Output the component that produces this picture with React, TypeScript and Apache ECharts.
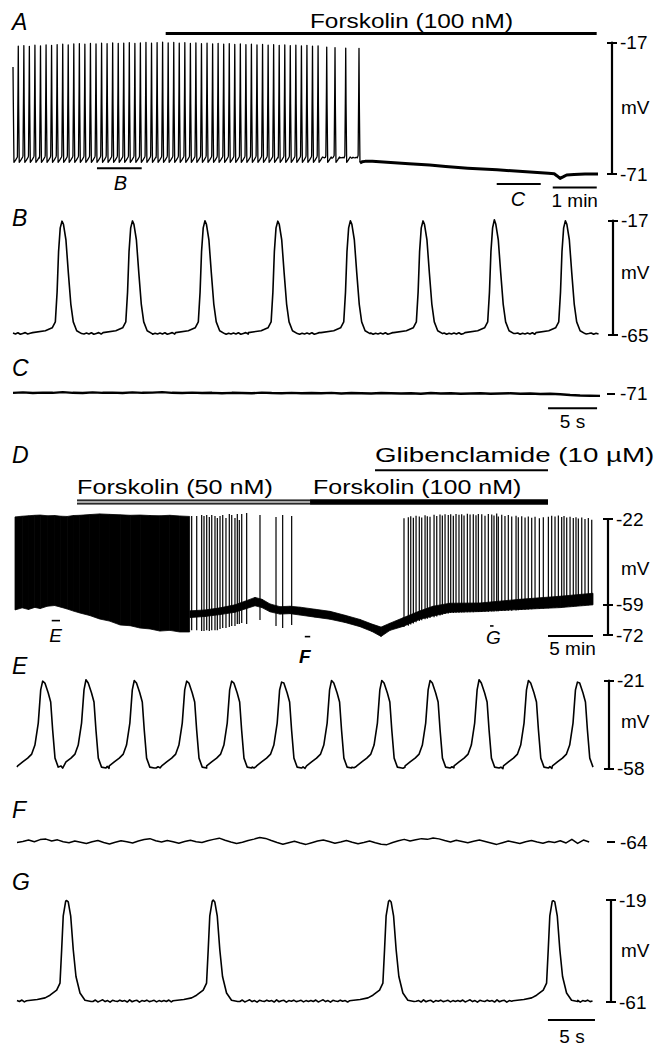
import React, { useEffect, useRef } from "react";
import * as echarts from "echarts";

const FONT = '"Liberation Sans", Arial, Helvetica, sans-serif';

// ---------- shared baseline noise (mV offsets read from the flat stretches) ----------
const baselineNoise = [0.4, -0.3, 0.7, -0.6, 0.1, 0.8, -0.4, 0.3, -0.8, 0.5, 0.0, -0.3, 0.6, -0.2, 0.3, -0.7, 0.8, -0.5, 0.2, 0.5, -0.8, 0.3, -0.1, 0.6, -0.4, 0.0, 0.5, -0.6, 0.3, -0.3];

// ---------- Panel A (time in s, mV) ----------
const spikesA = [
  [0, -27],
  [7.2, -18.4], [14.8, -18.2], [22.3, -18.5], [29.9, -18.0], [37.5, -18.3], [45.1, -17.9], [52.6, -18.1], [60.2, -17.8], [67.8, -17.6], [75.3, -17.9],
  [82.9, -17.5], [90.5, -17.4], [98.0, -17.6], [105.6, -17.3], [113.2, -17.5], [120.8, -17.2], [128.3, -17.4], [135.9, -17.1], [143.5, -17.3], [151.0, -17.2],
  [158.6, -17.0], [166.2, -17.3], [173.7, -17.1], [181.3, -16.9], [188.9, -17.2], [196.5, -17.0], [204.0, -16.8], [211.6, -17.1], [219.2, -16.9], [226.7, -17.2],
  [234.3, -17.0], [241.9, -17.3], [249.4, -17.1], [257.0, -17.4], [264.6, -17.2], [272.2, -17.5], [279.7, -17.3], [287.3, -17.6], [294.9, -17.4], [302.4, -17.7],
  [310.0, -17.5], [317.6, -17.8], [325.1, -17.6], [332.7, -17.9], [340.3, -17.7], [347.9, -18.0], [355.4, -17.8], [363.0, -18.1], [370.6, -17.9], [378.1, -18.2],
  [385.7, -18.0], [393.3, -18.3], [400.8, -18.1], [408.4, -18.4], [416.0, -18.3],
  [427.8, -18.8], [439.1, -19.0], [453.7, -19.2], [471.8, -19.3],
];
const spikeShapeA = [[-1.2, -63.4], [-0.35, -35], [0, 0], [0.45, -42], [1.3, -66.2], [3.5, -65.3], [6.0, -64.0]];
const afterSpikesA = [
  [473.1, -66.5], [476, -66.0], [480, -65.8], [490, -65.8], [505, -66.1], [520, -66.4], [540, -66.8], [568, -67.3], [590, -67.9],
  [620, -68.6], [660, -69.3], [690, -69.9], [715, -70.4], [730, -70.7], [738, -70.9], [742, -71.8], [746, -72.8], [750, -72.2],
  [755, -71.4], [765, -71.2], [780, -71.0], [797.7, -71.0],
];
const forskolinA = [208.2, 795.9];
const markB_A = [114.5, 175.5];
const markC_A = [659.6, 719.6];
const minuteBarA = [736, 796];
const ticksA = [-71, -17];

// ---------- Panel B ----------
const spikesB = [[5.0, -17.2], [12.19, -17.1], [19.59, -17.0], [27.02, -17.2], [34.43, -17.0], [41.84, -17.1], [49.12, -16.6], [56.37, -17.0]];
const spikeShapeB = [
  [-3.0, -64.0], [-1.7, -63.2], [-1.0, -62.0], [-0.68, -59.5], [-0.5, -47], [-0.35, -30], [-0.18, -20], [0, 0],
  [0.15, -18.5], [0.4, -25], [0.65, -39], [0.9, -52], [1.15, -59.5], [1.5, -63.2], [2.0, -64.4],
];
const ticksB = [-65, -17];

// ---------- Panel C ----------
const traceC = [
  -70.8, -70.6, -70.9, -70.7, -70.8, -70.5, -70.8, -70.9, -70.6, -70.8, -70.7, -70.9, -70.6, -70.8, -70.7, -70.5, -70.8, -70.9, -70.7, -70.9,
  -70.8, -71.0, -70.8, -70.9, -71.0, -70.7, -70.9, -71.0, -70.8, -71.0, -70.9, -71.0, -70.8, -71.1, -70.9, -71.0, -71.1, -70.9, -71.0, -71.1,
  -71.0, -71.2, -70.9, -71.1, -71.0, -71.2, -71.1, -71.0, -71.2, -71.1, -71.0, -71.2, -71.1, -71.3, -71.2, -71.4, -71.7, -71.9, -72.0, -72.1,
];
const secondsBarC = [54.6, 59.6];
const ticksC = [-71];

// ---------- Panel D (time in min, mV) ----------
const denseBandD = [
  [0.0, -21.1, -61.2], [0.8, -20.8, -60.3], [1.5, -20.6, -61.0], [2.2, -20.4, -60.1], [2.8, -20.3, -60.6], [3.6, -20.6, -59.6], [4.4, -20.5, -59.3],
  [5.1, -20.8, -60.0], [5.8, -20.9, -60.8], [6.5, -20.5, -61.7], [7.2, -20.4, -62.5], [8.3, -20.1, -63.6], [9.4, -19.8, -65.1], [10.5, -20.0, -66.0],
  [11.7, -20.2, -67.7], [12.8, -20.4, -68.0], [13.9, -20.3, -69.0], [15.0, -20.5, -69.4], [16.1, -20.6, -70.3], [17.2, -20.4, -70.0], [18.3, -20.7, -70.7],
  [19.4, -20.9, -70.7],
];
const baselineBandD = [
  [19.44, -61.6, -64.5], [21.11, -61.2, -64.0], [22.78, -60.3, -63.2], [24.44, -59.0, -62.2], [25.56, -57.4, -60.8], [26.67, -55.8, -59.4],
  [27.44, -56.6, -60.2], [28.33, -58.6, -62.0], [29.44, -59.8, -63.0], [30.56, -59.6, -62.8], [31.67, -60.0, -63.4], [33.33, -60.9, -64.3],
  [35.0, -61.8, -65.2], [36.67, -63.5, -66.6], [38.33, -65.3, -68.4], [39.67, -67.3, -70.5], [40.67, -68.6, -72.6], [41.67, -66.9, -70.0],
  [43.11, -64.6, -68.3], [45.0, -61.6, -65.2], [46.44, -59.6, -63.8], [48.33, -58.3, -62.2], [51.67, -58.2, -61.9], [56.11, -56.6, -61.0],
  [60.56, -55.3, -60.2], [64.22, -54.0, -59.0],
];
const sparseSpikesD = [
  [19.63, -20.7, -69.9], [20.19, -20.7, -69.9], [20.74, -20.3, -70.3], [21.0, -20.7, -70.3], [21.3, -20.3, -69.9], [21.59, -21.1, -70.3],
  [21.86, -20.3, -69.9], [22.22, -20.7, -69.9], [22.48, -21.6, -69.9], [22.78, -20.7, -69.4], [23.08, -20.3, -69.0], [23.44, -21.6, -69.0],
  [23.81, -19.8, -68.6], [24.08, -20.3, -68.1], [24.44, -21.6, -68.1], [24.70, -19.8, -67.3], [24.92, -22.4, -67.3], [25.19, -19.8, -66.8],
  [25.74, -19.4, -67.3], [27.22, -20.3, -65.5], [29.0, -21.1, -68.1], [29.74, -20.3, -69.0], [30.74, -20.7, -67.7],
];
const recoverySpikesD = [
  [43.22, -21.7, -68.5], [43.70, -21.2, -68.0], [43.97, -20.8, -67.5], [44.26, -21.5, -67.0], [44.56, -20.6, -66.5], [44.92, -20.9, -66.0],
  [45.19, -21.3, -65.6], [45.56, -20.4, -65.2], [45.81, -20.8, -65.0], [46.11, -21.0, -64.7], [46.56, -20.2, -64.3], [46.86, -20.7, -64.0],
  [47.22, -20.1, -63.6], [47.48, -20.5, -63.3], [47.78, -19.9, -63.0], [48.14, -20.3, -62.7], [48.41, -20.0, -62.5], [48.70, -20.6, -62.5],
  [49.00, -19.8, -62.4], [49.33, -20.2, -62.4], [49.63, -20.0, -62.3], [49.89, -20.5, -62.3], [50.26, -19.7, -62.2], [50.56, -20.1, -62.2],
  [50.92, -19.9, -62.2], [51.22, -20.4, -62.1], [51.48, -19.8, -62.1], [51.86, -20.0, -62.1], [52.22, -20.6, -62.0], [52.59, -19.8, -62.0],
  [52.97, -20.1, -61.9], [53.22, -20.5, -61.9], [53.52, -19.6, -61.8], [53.70, -20.9, -61.8], [54.08, -20.2, -61.7], [54.44, -20.7, -61.7],
  [54.81, -20.3, -61.6], [55.19, -20.9, -61.5], [55.67, -20.6, -61.4], [55.92, -21.2, -61.3], [56.30, -20.8, -61.2], [56.67, -21.4, -61.1],
  [57.03, -20.9, -61.0], [57.41, -21.5, -60.9], [57.78, -21.0, -60.8], [58.26, -21.7, -60.7], [58.70, -21.2, -60.6], [59.26, -21.0, -60.5],
  [59.63, -20.6, -60.4], [60.00, -20.9, -60.3], [60.37, -20.5, -60.2], [60.74, -21.1, -60.1], [61.00, -20.7, -60.0], [61.30, -21.4, -59.9],
  [61.67, -21.0, -59.8], [62.03, -21.6, -59.7], [62.33, -21.2, -59.6], [62.59, -21.8, -59.5], [62.97, -21.4, -59.4], [63.33, -22.0, -59.3],
  [63.70, -21.6, -59.2], [64.08, -22.3, -59.1],
];
const forskolin50D = [6.89, 32.78];
const forskolin100D = [32.78, 59.22];
const glibenclamideD = [40.0, 59.22];
const minuteBarD = [59.22, 64.22];
const markE_D = [4.08, 5.0];
const markF_D = [32.2, 32.8];
const markG_D = [52.78, 53.17];
const ticksD = [-72, -59, -22];

// ---------- Panel E ----------
const spikesE = [[2.62, -21.2], [7.04, -20.6], [11.97, -20.9], [17.32, -21.2], [21.91, -21.2], [27.01, -21.6], [32.11, -20.9], [37.24, -20.9], [42.17, -20.9], [47.17, -20.6], [52.21, -20.9], [57.21, -21.6]];
const spikeShapeE = [
  [-2.55, -57.0], [-2.04, -55.3], [-1.53, -53.7], [-1.12, -52.0], [-0.79, -48.2], [-0.45, -38.9], [-0.2, -24.9], [0, 0],
  [0.23, -22.0], [0.57, -26.2], [0.82, -30.0], [1.02, -41.8], [1.26, -53.7], [1.59, -57.5], [2.04, -57.9],
];
const ticksE = [-58, -21];

// ---------- Panel F ----------
const traceF = [
  -64.2, -63.8, -63.2, -63.9, -63.0, -62.8, -63.6, -63.1, -63.9, -64.3, -63.6, -64.1, -64.6, -63.9, -63.4, -64.2, -64.8, -64.1, -63.5, -63.9,
  -64.4, -63.6, -63.0, -62.6, -63.5, -64.0, -63.4, -63.9, -64.5, -63.8, -63.3, -63.9, -64.2, -63.5, -62.9, -62.4, -63.3, -64.0, -64.6, -64.1,
  -63.4, -62.8, -62.1, -62.5, -63.4, -64.2, -64.9, -64.3, -63.7, -64.4, -65.0, -64.3, -63.6, -63.2, -63.8, -64.5, -64.0, -63.4, -64.1, -64.7,
  -64.2, -63.6, -64.3, -64.9, -65.1, -64.2, -63.5, -62.9, -63.6, -63.1, -62.6, -62.9, -62.3, -62.7, -63.4, -64.0, -63.3, -63.8, -64.3, -63.7,
  -63.2, -63.8, -64.4, -65.0, -64.3, -63.6, -64.1, -64.6, -63.9, -63.4, -64.0, -64.5, -63.8, -64.2, -63.5, -64.4, -62.9, -64.6, -63.2, -64.0,
];
const ticksF = [-64];

// ---------- Panel G ----------
const spikesG = [[5.07, -19.2], [20.03, -19.0], [38.03, -19.1], [54.74, -19.3]];
const spikeShapeG = [
  [-4.1, -60.5], [-3.0, -60.0], [-2.2, -59.3], [-1.7, -58.2], [-1.02, -56.1], [-0.68, -53.2], [-0.51, -39.4], [-0.35, -25.5], [-0.1, -19.5], [0, 0],
  [0.16, -19.8], [0.41, -25.5], [0.67, -39.4], [0.95, -50.5], [1.36, -57.3], [1.87, -60.3], [2.5, -60.8],
];
const secondsBarG = [54.2, 59.0];
const ticksG = [-61, -19];

// ---------- helpers ----------
function buildSpikeTrace(spikes: number[][], shape: number[][], base: number, amp: number, t0: number, t1: number, step: number) {
  const pts: number[][] = [];
  const lo = shape[0][0];
  const hi = shape[shape.length - 1][0];
  let k = 0;
  for (let t = t0; t <= t1 + 1e-6; t += step, k++) {
    if (spikes.some((s) => t >= s[0] + lo && t <= s[0] + hi)) continue;
    pts.push([t, base + amp * baselineNoise[k % baselineNoise.length]]);
  }
  for (const [ts, pk] of spikes) {
    for (const [dt, v] of shape) {
      const t = ts + dt;
      if (t < t0 - 1e-6 || t > t1 + 1e-6) continue;
      pts.push([t, dt === 0 ? pk : v]);
    }
  }
  pts.sort((a, b) => a[0] - b[0]);
  return pts;
}

function lineSeries(gi: number, data: number[][], width: number, color = "#000", z = 3) {
  return {
    type: "line",
    xAxisIndex: gi,
    yAxisIndex: gi * 2,
    data,
    showSymbol: false,
    symbol: "none",
    clip: false,
    silent: true,
    z,
    lineStyle: { color, width, join: "round", cap: "butt" },
  };
}

function barSeries(gi: number, range: number[], v: number, width: number, color = "#000", z = 4) {
  return lineSeries(gi, [[range[0], v], [range[1], v]], width, color, z);
}

function bandSeries(gi: number, band: number[][]) {
  return {
    type: "custom",
    xAxisIndex: gi,
    yAxisIndex: gi * 2,
    data: band,
    encode: { x: 0, y: [1, 2] },
    silent: true,
    renderItem: (params: any, api: any) => {
      const i = params.dataIndex;
      if (i >= band.length - 1) return null;
      const a = band[i];
      const b = band[i + 1];
      return {
        type: "polygon",
        shape: { points: [api.coord([a[0], a[1]]), api.coord([b[0], b[1]]), api.coord([b[0], b[2]]), api.coord([a[0], a[2]])] },
        style: { fill: "#000", stroke: "#000", lineWidth: 0.8 },
      };
    },
  };
}

function spikeLines(gi: number, spikes: number[][]) {
  return {
    type: "custom",
    xAxisIndex: gi,
    yAxisIndex: gi * 2,
    data: spikes,
    encode: { x: 0, y: [1, 2] },
    silent: true,
    renderItem: (params: any, api: any) => {
      const p1 = api.coord([api.value(0), api.value(1)]);
      const p2 = api.coord([api.value(0), api.value(2)]);
      return {
        type: "line",
        shape: { x1: p1[0], y1: p1[1], x2: p2[0], y2: p2[1] },
        style: { stroke: "#000", lineWidth: 1.2 },
      };
    },
  };
}

// scale bar: right axis carries the bar, outer ticks and labels; a left-positioned twin
// moved onto the same line carries the ticks that point left.
function scaleAxes(gi: number, gridWidth: number, min: number, max: number, ticks: number[], offset: number, o: { line: boolean; tickLen?: number; margin?: number }) {
  const tl = o.tickLen ?? 5;
  return [
    {
      gridIndex: gi,
      type: "value",
      min,
      max,
      position: "right",
      offset,
      axisLine: { show: o.line, onZero: false, lineStyle: { color: "#000", width: 2.2 } },
      axisTick: { show: true, inside: false, length: tl, customValues: ticks, lineStyle: { color: "#000", width: 2 } },
      axisLabel: {
        show: true,
        margin: o.margin ?? 8,
        customValues: ticks,
        color: "#000",
        fontSize: 19,
        fontFamily: FONT,
        formatter: (v: number) => String(v),
      },
      splitLine: { show: false },
    },
    {
      gridIndex: gi,
      type: "value",
      min,
      max,
      position: "left",
      offset: -(gridWidth + offset),
      axisLine: { show: false },
      axisTick: { show: o.line, inside: false, length: tl, customValues: ticks, lineStyle: { color: "#000", width: 2 } },
      axisLabel: { show: false },
      splitLine: { show: false },
    },
  ];
}

function txt(x: number, y: number, s: string, size: number, o: { align?: string; italic?: boolean; bold?: boolean; sx?: number } = {}) {
  return {
    type: "text",
    x,
    y,
    scaleX: o.sx ?? 1,
    silent: true,
    z: 10,
    style: {
      text: s,
      fill: "#000",
      fontSize: size,
      fontFamily: FONT,
      fontStyle: o.italic ? "italic" : "normal",
      fontWeight: o.bold ? "bold" : "normal",
      align: o.align ?? "left",
      textAlign: o.align ?? "left",
      verticalAlign: "middle",
      textVerticalAlign: "middle",
    },
  };
}

function buildOption() {
  const gridBoxes = [
    { left: 13, top: 42.7, width: 585, height: 131.3 }, // A
    { left: 13, top: 220.7, width: 587, height: 114.3 }, // B
    { left: 13, top: 371.9, width: 587, height: 42.8 }, // C
    { left: 15, top: 519, width: 578, height: 116 }, // D
    { left: 17, top: 680.7, width: 576, height: 87.6 }, // E
    { left: 17, top: 827.6, width: 577, height: 28.8 }, // F
    { left: 17, top: 900, width: 577, height: 102 }, // G
  ];
  const grids = gridBoxes.map((g) => ({ ...g, containLabel: false, outerBoundsMode: "none", show: false }));

  const xr = [
    [0, 797.7],
    [0, 59.9],
    [0, 59.9],
    [0, 64.22],
    [0, 58.8],
    [0, 58.9],
    [0, 58.9],
  ];
  const xAxis = xr.map((r, gi) => ({ gridIndex: gi, type: "value", min: r[0], max: r[1], show: false }));

  const w = gridBoxes.map((g) => g.width);
  const yAxis = [
    ...scaleAxes(0, w[0], -71, -17, ticksA, 14, { line: true }),
    ...scaleAxes(1, w[1], -65, -17, ticksB, 13, { line: true }),
    ...scaleAxes(2, w[2], -80, -62, ticksC, 7, { line: false, tickLen: 8, margin: 13 }),
    ...scaleAxes(3, w[3], -72, -22, ticksD, 15, { line: true }),
    ...scaleAxes(4, w[4], -58, -21, ticksE, 16, { line: true }),
    ...scaleAxes(5, w[5], -70, -58, ticksF, 13, { line: false, tickLen: 8, margin: 13 }),
    ...scaleAxes(6, w[6], -61, -19, ticksG, 17, { line: true }),
  ];

  const traceA = buildSpikeTrace(spikesA, spikeShapeA, -64.3, 0.3, 0, 473.1, 1.5);
  const traceB = buildSpikeTrace(spikesB, spikeShapeB, -64.4, 0.5, 0, 59.9, 0.25);
  const traceE = buildSpikeTrace(spikesE, spikeShapeE, -57.7, 0.6, 0, 58.8, 0.2);
  const traceG = buildSpikeTrace(spikesG, spikeShapeG, -60.6, 0.6, 0, 58.9, 0.25);
  const dataC = traceC.map((v, i) => [i * (59.9 / (traceC.length - 1)), v]);
  const dataF = traceF.map((v, i) => [i * 0.59, v]);

  const series: any[] = [
    // A
    lineSeries(0, traceA, 1.3),
    lineSeries(0, afterSpikesA, 3),
    barSeries(0, forskolinA, -13.2, 3),
    barSeries(0, markB_A, -68.6, 2),
    barSeries(0, markC_A, -75.1, 2),
    barSeries(0, minuteBarA, -76.6, 2),
    // B
    lineSeries(1, traceB, 1.6),
    // C
    lineSeries(2, dataC, 2.4),
    barSeries(2, secondsBarC, -77.3, 2),
    // D
    bandSeries(3, denseBandD),
    bandSeries(3, baselineBandD),
    spikeLines(3, sparseSpikesD),
    spikeLines(3, recoverySpikesD),
    barSeries(3, forskolin50D, -14.67, 5),
    barSeries(3, forskolin50D, -14.67, 2.4, "#a8a8a8", 5),
    barSeries(3, forskolin100D, -14.67, 5.5),
    barSeries(3, glibenclamideD, -1.0, 2),
    barSeries(3, minuteBarD, -72.43, 2),
    barSeries(3, markE_D, -65.8, 1.6),
    barSeries(3, markF_D, -72.7, 1.6),
    barSeries(3, markG_D, -68.1, 1.6),
    // E
    lineSeries(4, traceE, 1.6),
    // F
    lineSeries(5, dataF, 1.5),
    // G
    lineSeries(6, traceG, 1.6),
    barSeries(6, secondsBarG, -68.4, 2),
  ];

  const graphic = [
    txt(12, 21.5, "A", 23, { italic: true }),
    txt(310, 20.8, "Forskolin (100 nM)", 21, { sx: 1.16 }),
    txt(120.5, 182.7, "B", 20, { italic: true, align: "center" }),
    txt(518, 199, "C", 20, { italic: true, align: "center" }),
    txt(574.7, 200, "1 min", 19, { align: "center" }),
    txt(621, 107, "mV", 19),
    txt(12, 217.5, "B", 23, { italic: true }),
    txt(621, 272, "mV", 19),
    txt(12, 368, "C", 23, { italic: true }),
    txt(572.5, 421, "5 s", 19, { align: "center" }),
    txt(12, 455, "D", 23, { italic: true }),
    txt(375, 455, "Glibenclamide (10 µM)", 21, { sx: 1.32 }),
    txt(77, 487, "Forskolin (50 nM)", 21, { sx: 1.2 }),
    txt(313, 487, "Forskolin (100 nM)", 21, { sx: 1.19 }),
    txt(621, 568, "mV", 19),
    txt(55.5, 635.5, "E", 19, { italic: true, align: "center" }),
    txt(304.7, 656, "F", 19, { italic: true, bold: true, align: "center" }),
    txt(493.3, 637.5, "G", 19, { italic: true, align: "center" }),
    txt(572.5, 648, "5 min", 19, { align: "center" }),
    txt(12, 666, "E", 23, { italic: true }),
    txt(621, 721, "mV", 19),
    txt(12, 810, "F", 23, { italic: true }),
    txt(12, 882, "G", 23, { italic: true }),
    txt(621, 950, "mV", 19),
    txt(572, 1036, "5 s", 19, { align: "center" }),
  ];

  return {
    animation: false,
    backgroundColor: "#ffffff",
    textStyle: { fontFamily: FONT },
    grid: grids,
    xAxis,
    yAxis,
    series,
    graphic,
  };
}

export default function App() {
  const ref = useRef<HTMLDivElement>(null);
  useEffect(() => {
    document.body.style.margin = "0";
    const chart = echarts.init(ref.current as HTMLDivElement, null, { renderer: "svg", width: 667, height: 1045 });
    chart.setOption(buildOption() as any);
    return () => chart.dispose();
  }, []);
  return <div ref={ref} style={{ width: 667, height: 1045 }} />;
}
